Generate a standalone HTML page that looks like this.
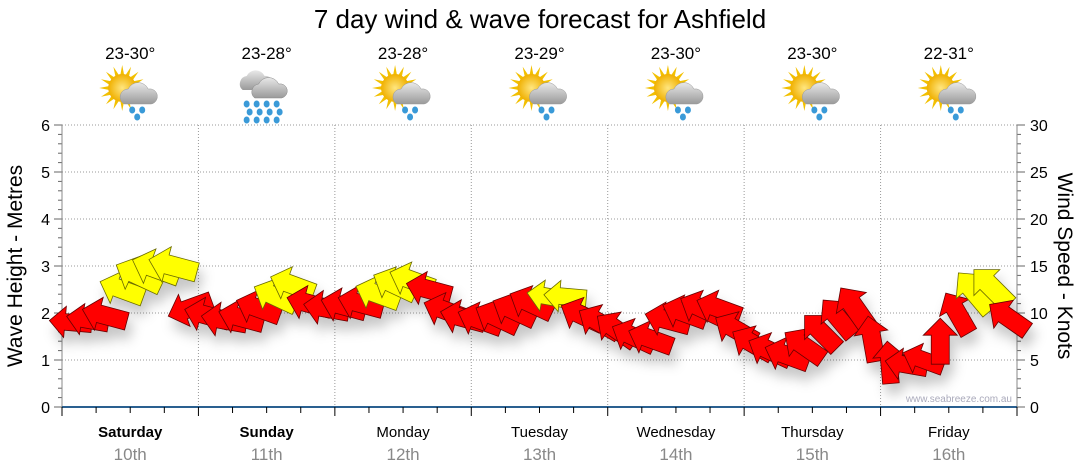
<!DOCTYPE html>
<html><head><meta charset="utf-8"><style>
body{margin:0;background:#fff;font-family:"Liberation Sans",sans-serif}
svg{display:block}
</style></head><body>
<svg id="chart" width="1080" height="475" viewBox="0 0 1080 475">
<defs>
<filter id="sh" x="-50%" y="-50%" width="200%" height="200%"><feDropShadow dx="4" dy="10" stdDeviation="6" flood-color="#000" flood-opacity="0.22"/></filter>
<radialGradient id="sun" cx="0.5" cy="0.5" r="0.5"><stop offset="0" stop-color="#ffe680"/><stop offset="1" stop-color="#f0b000"/></radialGradient>
<linearGradient id="cloud" x1="0" y1="0" x2="0" y2="1"><stop offset="0" stop-color="#e8e8e8"/><stop offset="1" stop-color="#9a9a9a"/></linearGradient>
</defs>
<text x="540" y="28" text-anchor="middle" font-size="26" fill="#000">7 day wind &amp; wave forecast for Ashfield</text>
<g id="grid"></g>
<g id="axes"></g>
<g id="icons"></g>
<g id="arrows" filter="url(#sh)"></g>
<text x="1012" y="402" text-anchor="end" font-size="10" fill="#aab">www.seabreeze.com.au</text>
<text transform="translate(22,266) rotate(-90)" text-anchor="middle" font-size="21" fill="#000">Wave Height - Metres</text>
<text transform="translate(1058,266) rotate(90)" text-anchor="middle" font-size="21" fill="#000">Wind Speed - Knots</text>
</svg>
<script>
const days=["Saturday","Sunday","Monday","Tuesday","Wednesday","Thursday","Friday"];
const dates=["10th","11th","12th","13th","14th","15th","16th"];
const boldDays=[true,true,false,false,false,false,false];
const temps=["23-30°","23-28°","23-28°","23-29°","23-30°","23-30°","22-31°"];
const iconTypes=["sunrain","rain","sunrain","sunrain","sunrain","sunrain","sunrain"];
const waveTicks=[0,1,2,3,4,5,6];
const windTicks=[0,5,10,15,20,25,30];
// 3-hourly wave heights (m)
const waveHeight=[1.8,1.85,1.95,2.5,2.8,2.95,3.0,2.1,
1.95,1.85,1.9,2.1,2.35,2.6,2.2,2.1,
2.15,2.2,2.4,2.6,2.7,2.5,2.05,1.9,
1.85,1.9,2.05,2.2,2.35,2.35,1.95,1.8,
1.65,1.5,1.45,1.85,2.0,2.1,2.1,1.65,
1.35,1.2,1.1,1.3,1.6,1.9,2.1,1.45,
0.95,0.9,1.0,1.4,2.0,2.45,2.55,1.9];
// arrow heading on screen (deg, 180 = pointing left, 270 = up)
const windDir=[185,190,195,200,205,200,195,160,
195,190,195,200,205,200,195,190,
195,195,200,205,200,195,200,195,
200,205,205,205,190,185,205,210,
215,205,200,195,200,205,200,210,
210,205,200,215,225,230,235,260,
265,190,200,270,240,230,225,215];
const windSpeed=[12,12,13,13,14,14,14,13,
13,13,13,13,13,13,13,13,
13,13,13,13,13,13,13,13,
13,13,13,13,12,12,13,13,
13,13,13,13,13,13,13,13,
13,13,13,13,13,13,14,13,
12,12,12,13,13,14,14,13];
const windClass=["R","R","R","Y","Y","Y","Y","R",
"R","R","R","R","Y","Y","R","R",
"R","R","Y","Y","Y","R","R","R",
"R","R","R","R","Y","Y","R","R",
"R","R","R","R","R","R","R","R",
"R","R","R","R","R","R","R","R",
"R","R","R","R","R","Y","Y","R"];
const NS="http://www.w3.org/2000/svg";
const X0=62,X1=1017,Y0=407,Y1=125;
const xDay=d=>X0+(X1-X0)*d/7;
const yWave=v=>Y0-(Y0-Y1)*v/6;
const yWind=v=>Y0-(Y0-Y1)*v/30;
function mk(tag,attrs,parent){const e=document.createElementNS(NS,tag);for(const k in attrs)e.setAttribute(k,attrs[k]);parent.appendChild(e);return e;}
const grid=document.getElementById('grid'),axes=document.getElementById('axes'),icons=document.getElementById('icons'),arrows=document.getElementById('arrows');
waveTicks.forEach(v=>{
 if(v>0){const l=mk('line',{x1:X0,x2:X1,y1:yWave(v),y2:yWave(v),stroke:'#999','stroke-dasharray':'1,2'},grid);
 
 }
 const t=mk('text',{x:50,y:yWave(v)+6,'text-anchor':'end','font-size':16,fill:'#000'},axes);t.textContent=v;
 
 
});
for(let v=0;v<=6.001;v+=0.2){const y=yWave(v);mk('line',{x1:X0-(Math.abs(v-Math.round(v))<0.01?8:4),x2:X0,y1:y,y2:y,stroke:'#666'},axes);mk('line',{x1:X1,x2:X1+(Math.abs(v-Math.round(v))<0.01?8:4),y1:y,y2:y,stroke:'#666'},axes);}
windTicks.forEach(v=>{const t=mk('text',{x:1030,y:yWind(v)+6,'font-size':16,fill:'#000'},axes);t.textContent=v;
 
 });
mk('line',{x1:X0,x2:X0,y1:Y1,y2:Y0,stroke:'#888'},axes);
mk('line',{x1:X1,x2:X1,y1:Y1,y2:Y0,stroke:'#888'},axes);
for(let d=1;d<7;d++){const l=mk('line',{x1:xDay(d),x2:xDay(d),y1:Y1,y2:Y0,stroke:'#999','stroke-dasharray':'1,2'},grid);
 
 }
mk('line',{x1:X0,x2:X1,y1:Y0,y2:Y0,stroke:'#2a6090','stroke-width':2},axes);
for(let i=0;i<=28;i++){const x=X0+(X1-X0)*i/28;mk('line',{x1:x,x2:x,y1:Y0,y2:Y0+(i%4==0?9:6),stroke:'#000'},axes);}
function drawIcon(g,cx,cy,type){
 if(type==='sunrain'){
  for(let i=0;i<16;i++){const a=i*Math.PI/8;mk('polygon',{points:`${cx-8+Math.cos(a)*23},${cy-4+Math.sin(a)*23} ${cx-8+Math.cos(a+0.15)*13},${cy-4+Math.sin(a+0.15)*13} ${cx-8+Math.cos(a-0.15)*13},${cy-4+Math.sin(a-0.15)*13}`,fill:'#f2c000'},g);}
  mk('circle',{cx:cx-8,cy:cy-4,r:14,fill:'url(#sun)'},g);
  mk('path',{d:`M${cx-6},${cy+12} a8,8 0 0 1 4,-15 a11,11 0 0 1 20,0 a7,7 0 0 1 3,15 z`,fill:'url(#cloud)',stroke:'#999','stroke-width':0.5},g);
  [[cx+2,cy+18],[cx+12,cy+18],[cx+7,cy+25]].forEach(p=>mk('ellipse',{cx:p[0],cy:p[1],rx:3,ry:3.5,fill:'#3a9ad8'},g));
 } else {
  mk('path',{d:`M${cx-24},${cy-2} a8,8 0 0 1 4,-14 a10,10 0 0 1 18,0 a7,7 0 0 1 2,14 z`,fill:'url(#cloud)'},g);
  mk('path',{d:`M${cx-12},${cy+6} a8,8 0 0 1 4,-14 a11,11 0 0 1 20,0 a7,7 0 0 1 3,14 z`,fill:'url(#cloud)',stroke:'#888','stroke-width':0.5},g);
  for(let r=0;r<3;r++)for(let c=0;c<4;c++)mk('ellipse',{cx:cx-20+c*10+(r%2)*3,cy:cy+12+r*8,rx:3,ry:3.5,fill:'#3a9ad8'},g);
 }
}
days.forEach((d,i)=>{
 const cx=(xDay(i)+xDay(i+1))/2;
 const t=mk('text',{x:cx,y:437,'text-anchor':'middle','font-size':15,'font-weight':boldDays[i]?'bold':'normal',fill:'#000'},axes);t.textContent=d;
 
 
 const t2=mk('text',{x:cx,y:460,'text-anchor':'middle','font-size':17,fill:'#888'},axes);t2.textContent=dates[i];
 
 
 const t3=mk('text',{x:cx,y:59,'text-anchor':'middle','font-size':17,fill:'#000'},icons);t3.textContent=temps[i];
 
 
 const g=mk('g',{},icons);
 
 
 drawIcon(g,cx,92,iconTypes[i]);
});
waveHeight.forEach((h,i)=>{
 const x=X0+(X1-X0)*(i+0.5)/56,y=yWave(h);
 const s=windSpeed[i]/13;
 const L=23*s,H=17*s,W=9*s;
 const p=mk('polygon',{points:`${L},0 ${L-H},${-H} ${L-H},${-W} ${-L},${-W} ${-L},${W} ${L-H},${W} ${L-H},${H}`,
  fill:windClass[i]==='Y'?'#ffff00':'#ff0000',stroke:windClass[i]==='Y'?'#6a6a00':'#600',
  'stroke-width':0.8,transform:`translate(${x},${y}) rotate(${windDir[i]})`},arrows);
 
 
});
</script>
</body></html>
